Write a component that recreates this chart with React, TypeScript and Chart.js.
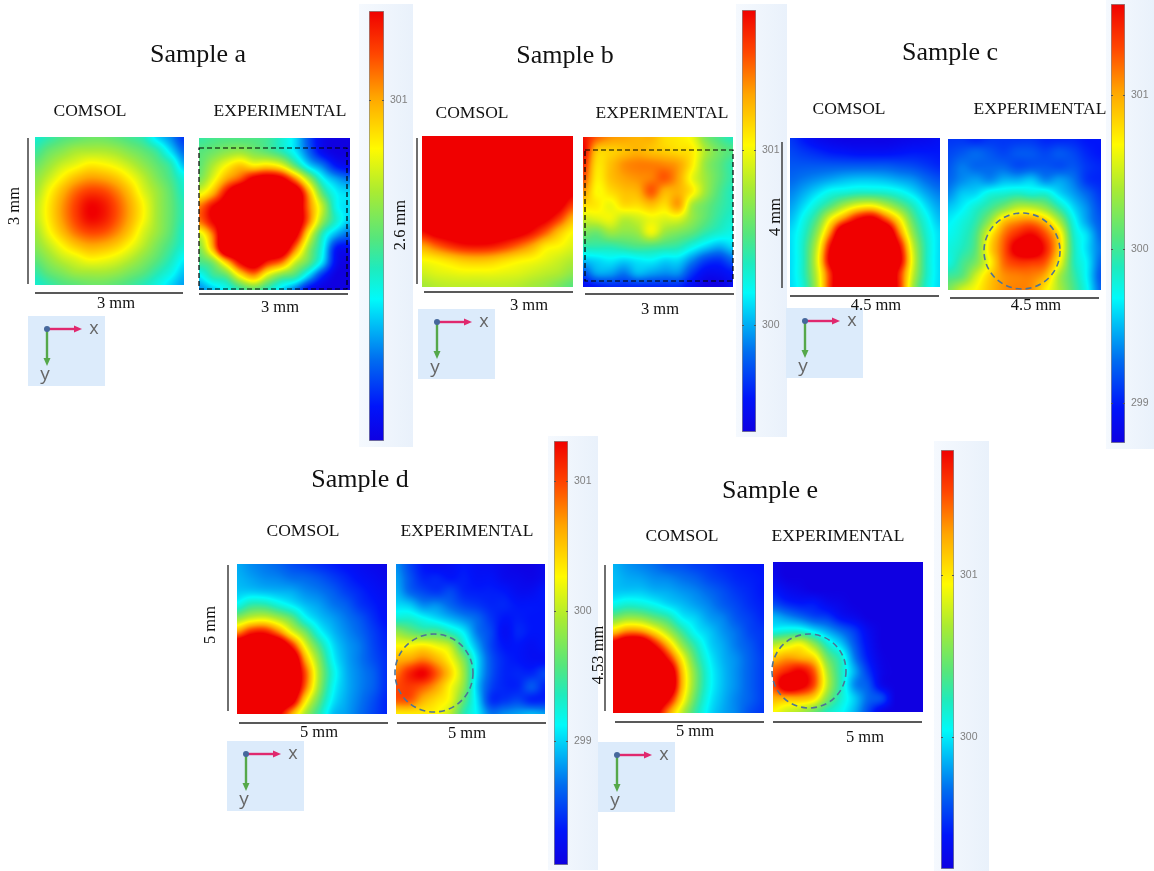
import React, { useEffect, useRef } from "react";
import { Chart, registerables } from "chart.js";

Chart.register(...registerables);

// Colour level on each colour bar: 0 = bottom of bar (blue), 100 = top of bar (red), above 100 = saturated.
const sampleAComsol = [
  [38,42,46,48,50,50,48,45,41,30,22,12],
  [43,49,53,57,58,58,56,52,48,42,30,18],
  [49,55,61,65,69,68,65,60,54,48,41,26],
  [54,61,69,76,80,79,75,68,60,52,45,36],
  [57,67,77,86,91,90,84,75,64,56,48,39],
  [60,70,81,91,99,97,89,79,68,57,49,41],
  [60,70,81,91,99,97,89,79,68,57,49,41],
  [57,67,77,86,91,90,84,75,64,56,48,39],
  [54,61,69,76,80,79,75,68,60,52,45,38],
  [49,55,61,65,69,68,65,60,54,48,41,33],
  [43,49,53,57,58,58,56,52,48,42,36,28],
  [38,42,46,48,50,50,48,45,41,36,30,24],
];
const sampleAExperimental = [
  [43,45,46,46,46,44,38,30,15,3,0,0],
  [47,50,54,56,52,48,42,32,18,5,0,0],
  [48,58,68,75,70,72,66,48,30,20,8,4],
  [52,65,80,90,105,110,105,85,58,35,25,20],
  [65,78,100,120,120,120,120,115,80,48,33,30],
  [85,100,110,120,120,120,120,115,85,60,35,30],
  [85,100,110,120,120,120,120,115,85,55,38,28],
  [62,85,120,120,120,120,120,105,68,40,25,18],
  [52,78,120,120,120,120,115,85,55,35,8,5],
  [45,52,75,100,110,95,85,62,48,30,5,0],
  [32,42,48,68,80,62,50,44,28,10,0,0],
  [22,28,34,42,48,40,30,20,5,0,0,0],
];
const sampleBComsol = [
  [120,120,120,120,120,120,120,120,120,120,120,120],
  [120,120,120,120,120,120,120,120,120,120,120,118],
  [120,120,120,120,120,120,120,120,120,120,120,115],
  [120,120,120,120,120,120,120,120,120,120,120,108],
  [120,120,120,120,120,120,120,120,120,120,113,103],
  [120,120,120,120,120,120,120,120,120,113,105,92],
  [108,116,120,120,120,120,120,116,108,103,92,78],
  [98,105,108,110,110,110,108,105,98,88,76,68],
  [80,87,93,97,98,97,93,87,80,71,68,64],
  [68,70,73,76,77,76,73,70,68,65,62,59],
  [62,64,65,66,66,66,65,64,62,60,58,54],
  [57,59,60,60,60,60,60,59,57,55,51,47],
];
const sampleBExperimental = [
  [98,88,82,80,78,78,72,70,66,52,45,40],
  [100,76,74,76,78,76,74,72,70,58,50,46],
  [95,72,76,82,84,84,83,80,70,55,48,42],
  [90,70,76,80,82,84,88,80,66,56,48,42],
  [82,68,72,76,78,88,78,78,70,56,46,40],
  [72,70,66,72,72,76,72,80,58,50,44,40],
  [62,64,66,60,62,66,64,64,55,48,42,38],
  [52,50,56,54,56,66,56,52,48,42,38,35],
  [42,42,42,44,46,46,44,42,36,30,26,30],
  [28,30,32,30,32,33,30,30,22,14,12,18],
  [15,24,24,20,26,24,22,22,12,5,5,8],
  [5,8,10,10,10,10,10,10,5,0,0,5],
];
const sampleCComsol = [
  [12,8,4,2,1,1,1,1,2,3,4,6],
  [14,12,10,8,7,6,6,6,7,8,8,8],
  [16,16,16,16,16,16,16,16,15,14,12,10],
  [18,20,22,24,26,27,27,26,24,22,18,15],
  [21,25,30,35,37,39,39,38,35,30,24,20],
  [24,30,38,47,58,66,68,60,50,40,30,24],
  [27,35,47,68,85,100,105,90,70,48,35,27],
  [30,38,55,85,120,120,120,120,85,55,38,30],
  [30,40,62,100,125,125,125,125,100,62,40,30],
  [30,40,65,105,125,125,125,125,105,65,40,30],
  [30,40,62,95,120,125,125,120,95,62,40,30],
  [30,38,60,95,120,120,120,120,95,58,38,30],
];
const sampleCExperimental = [
  [12,12,10,12,12,12,12,10,10,10,8,8],
  [14,16,18,16,14,16,16,14,16,14,10,8],
  [16,20,18,18,18,15,16,16,15,16,12,10],
  [18,22,24,22,26,26,28,22,24,20,12,10],
  [22,28,30,36,38,40,38,38,30,24,18,12],
  [28,32,38,44,52,60,60,54,42,30,22,14],
  [32,36,42,55,75,82,84,76,58,36,24,16],
  [34,38,46,68,85,95,100,90,72,40,30,18],
  [36,40,48,72,88,105,110,96,74,42,30,20],
  [36,44,52,68,86,92,92,88,68,42,32,18],
  [44,48,62,74,82,84,84,78,58,44,32,16],
  [52,62,68,76,82,84,82,70,58,46,34,18],
];
const sampleDComsol = [
  [25,22,20,18,15,13,11,9,7,5,3,2],
  [26,24,22,21,19,18,16,13,10,7,5,3],
  [28,28,27,26,25,22,20,17,13,10,7,5],
  [35,42,42,37,32,27,24,20,17,12,9,6],
  [55,62,64,58,49,35,28,24,20,16,11,7],
  [82,95,97,85,66,51,35,27,22,18,13,9],
  [115,120,120,118,96,66,46,31,24,20,14,10],
  [120,120,120,120,118,80,54,34,25,20,15,11],
  [120,120,120,120,120,90,58,37,26,21,17,11],
  [120,120,120,120,120,87,56,35,26,21,17,11],
  [120,120,120,120,108,72,49,32,25,20,15,10],
  [100,115,115,104,80,58,42,28,24,19,14,10],
];
const sampleDExperimental = [
  [22,14,8,5,6,8,6,5,3,1,1,3],
  [24,16,10,10,8,9,7,7,4,3,2,4],
  [26,18,14,12,14,10,9,9,8,5,5,8],
  [30,28,22,22,18,14,12,10,10,8,8,8],
  [38,38,34,30,26,22,18,12,8,9,8,8],
  [55,50,46,46,40,32,20,14,6,10,8,8],
  [68,68,70,66,60,40,25,14,8,8,6,8],
  [78,80,84,78,68,52,30,16,10,8,6,6],
  [85,95,100,88,74,56,30,16,10,10,10,14],
  [90,92,88,80,68,54,28,14,10,10,16,10],
  [88,88,78,72,66,48,30,12,12,14,10,10],
  [70,70,70,68,60,42,32,20,22,24,26,24],
];
const sampleEComsol = [
  [26,23,21,19,16,15,13,12,10,9,8,7],
  [27,25,24,22,21,19,17,14,12,10,9,8],
  [28,28,28,26,25,23,21,18,15,12,10,8],
  [35,38,37,34,30,27,24,21,17,14,11,9],
  [51,56,55,49,43,33,29,24,21,16,13,10],
  [75,84,83,72,58,44,33,28,23,19,14,12],
  [108,120,120,100,78,56,41,30,25,20,16,12],
  [120,120,120,120,98,70,47,33,26,22,17,13],
  [120,120,120,120,118,78,52,35,27,22,17,13],
  [120,120,120,120,120,79,52,35,27,22,17,13],
  [120,120,120,120,102,72,48,33,26,21,17,13],
  [118,120,120,108,83,61,43,31,25,21,15,12],
];
const sampleEExperimental = [
  [2,0,0,0,0,0,0,0,0,0,0,0],
  [3,0,0,0,0,0,0,0,0,0,0,0],
  [8,4,2,0,0,0,0,0,0,0,0,0],
  [14,10,8,8,4,2,0,0,0,0,0,0],
  [26,22,18,14,12,6,3,0,0,0,0,0],
  [34,36,36,30,24,18,12,4,0,0,0,0],
  [58,62,66,54,38,28,16,6,0,0,0,0],
  [75,80,78,72,50,38,20,8,1,0,0,0],
  [88,95,100,88,58,40,25,12,2,0,0,0],
  [90,110,105,90,60,40,22,16,3,0,0,0],
  [78,78,78,72,52,38,28,18,14,0,0,0],
  [68,62,58,50,40,34,26,14,2,0,0,0],
];

// Colour-bar ranges (kelvin) and printed ticks.
const barRangeA = [299.0, 301.52];
const barRangeB = [299.39, 301.8];
const barRangeC = [298.74, 301.59];
const barRangeD = [298.05, 301.31];
const barRangeE = [299.19, 301.77];
const barTicksA = [301];
const barTicksB = [300, 301];
const barTicksC = [299, 300, 301];
const barTicksD = [299, 300, 301];
const barTicksE = [300, 301];

const sampleTitles = ["Sample a", "Sample b", "Sample c", "Sample d", "Sample e"];
const panelHeading = ["COMSOL", "EXPERIMENTAL"];
const widthLabels = ["3 mm", "3 mm", "4.5 mm", "5 mm", "5 mm"];
const heightLabels = ["3 mm", "2.6 mm", "4 mm", "5 mm", "4.53 mm"];

// ---- layout: [left, top, right, bottom] in page pixels
type Box = [number, number, number, number];
const heatLayout: { grid: number[][]; box: Box }[] = [
  { grid: sampleAComsol, box: [35, 137, 184, 285] },
  { grid: sampleAExperimental, box: [199, 138, 350, 290] },
  { grid: sampleBComsol, box: [422, 136, 573, 287] },
  { grid: sampleBExperimental, box: [583, 137, 733, 287] },
  { grid: sampleCComsol, box: [790, 138, 940, 287] },
  { grid: sampleCExperimental, box: [948, 139, 1101, 290] },
  { grid: sampleDComsol, box: [237, 564, 387, 714] },
  { grid: sampleDExperimental, box: [396, 564, 545, 714] },
  { grid: sampleEComsol, box: [613, 564, 764, 713] },
  { grid: sampleEExperimental, box: [773, 562, 923, 712] },
];
const barLayout: { range: number[]; ticks: number[]; bar: Box; bg: Box }[] = [
  { range: barRangeA, ticks: barTicksA, bar: [369, 11, 384, 441], bg: [359, 4, 413, 447] },
  { range: barRangeB, ticks: barTicksB, bar: [742, 10, 756, 432], bg: [736, 4, 787, 437] },
  { range: barRangeC, ticks: barTicksC, bar: [1111, 4, 1125, 443], bg: [1106, 0, 1154, 449] },
  { range: barRangeD, ticks: barTicksD, bar: [554, 441, 568, 865], bg: [548, 436, 598, 870] },
  { range: barRangeE, ticks: barTicksE, bar: [941, 450, 954, 869], bg: [934, 441, 989, 871] },
];
const titlePos = [[198, 54], [565, 55], [950, 52], [360, 479], [770, 490]];
const headingPos = [
  [[90, 111], [280, 111]],
  [[472, 113], [662, 113]],
  [[849, 109], [1040, 109]],
  [[303, 531], [467, 531]],
  [[682, 536], [838, 536]],
];
const widthLabelPos = [
  [[116, 303], [280, 307]],
  [[529, 305], [660, 309]],
  [[876, 305], [1036, 305]],
  [[319, 732], [467, 733]],
  [[695, 731], [865, 737]],
];
const heightLabelPos = [[14, 206], [400, 225], [775, 217], [210, 625], [598, 655]];
const axisLines = [
  [28, 138, 28, 284], [35, 293, 183, 293], [199, 294, 348, 294],
  [417, 138, 417, 284], [424, 292, 573, 292], [585, 294, 734, 294],
  [782, 142, 782, 288], [790, 296, 939, 296], [950, 298, 1099, 298],
  [228, 565, 228, 711], [239, 723, 388, 723], [397, 723, 546, 723],
  [605, 565, 605, 711], [615, 722, 764, 722], [773, 722, 922, 722],
];
const dashedRects = [[199, 148, 347, 289], [585, 150, 733, 281]];
const dashedCircles = [[1022, 251, 38], [434, 673, 39], [809, 671, 37]];
const triads = [[28, 316], [418, 309], [786, 308], [227, 741], [598, 742]];

// ---- colours
const colourStops: [number, number, number, number][] = [
  [0, 15, 0, 225],
  [8, 0, 20, 250],
  [19, 0, 110, 240],
  [33, 0, 250, 250],
  [40, 30, 235, 190],
  [47, 85, 230, 125],
  [58, 170, 235, 50],
  [68, 255, 250, 0],
  [80, 255, 165, 0],
  [90, 255, 70, 0],
  [100, 240, 0, 0],
];
function levelColour(level: number): [number, number, number] {
  const v = Math.max(0, Math.min(100, level));
  for (let i = 1; i < colourStops.length; i++) {
    const a = colourStops[i - 1];
    const b = colourStops[i];
    if (v <= b[0]) {
      const t = (v - a[0]) / (b[0] - a[0]);
      return [a[1] + (b[1] - a[1]) * t, a[2] + (b[2] - a[2]) * t, a[3] + (b[3] - a[3]) * t];
    }
  }
  return [240, 0, 0];
}

function catmull(a: number, b: number, c: number, d: number, t: number) {
  return 0.5 * (2 * b + (c - a) * t + (2 * a - 5 * b + 4 * c - d) * t * t + (3 * b - a - 3 * c + d) * t * t * t);
}

const heatRaster = {
  id: "heatRaster",
  beforeDatasetsDraw(chart: any) {
    const pts = chart.data.datasets[0].data as { x: number; y: number; v: number }[];
    const nx = Math.max(...pts.map((p) => p.x)) + 1;
    const ny = Math.max(...pts.map((p) => p.y)) + 1;
    const cell = (c: number, r: number) =>
      pts[Math.max(0, Math.min(r, ny - 1)) * nx + Math.max(0, Math.min(c, nx - 1))].v;
    const { left, top, right, bottom } = chart.chartArea;
    const w = Math.round(right - left);
    const h = Math.round(bottom - top);
    const off = document.createElement("canvas");
    off.width = w;
    off.height = h;
    const octx = off.getContext("2d")!;
    const img = octx.createImageData(w, h);
    for (let py = 0; py < h; py++) {
      const gy = Math.max(0, Math.min(ny - 1, chart.scales.y.getValueForPixel(top + py + 0.5)));
      const r0 = Math.floor(gy);
      const fy = gy - r0;
      for (let px = 0; px < w; px++) {
        const gx = Math.max(0, Math.min(nx - 1, chart.scales.x.getValueForPixel(left + px + 0.5)));
        const c0 = Math.floor(gx);
        const fx = gx - c0;
        const rows = [-1, 0, 1, 2].map((dr) =>
          catmull(cell(c0 - 1, r0 + dr), cell(c0, r0 + dr), cell(c0 + 1, r0 + dr), cell(c0 + 2, r0 + dr), fx)
        );
        const v = catmull(rows[0], rows[1], rows[2], rows[3], fy);
        const [cr, cg, cb] = levelColour(v);
        const o = (py * w + px) * 4;
        img.data[o] = cr;
        img.data[o + 1] = cg;
        img.data[o + 2] = cb;
        img.data[o + 3] = 255;
      }
    }
    octx.putImageData(img, 0, 0);
    chart.ctx.drawImage(off, left, top);
  },
};

const barTickMarks = {
  id: "barTickMarks",
  afterDatasetsDraw(chart: any) {
    const { ctx, chartArea, scales } = chart;
    ctx.save();
    ctx.strokeStyle = "#555";
    ctx.lineWidth = 1;
    for (const t of scales.y.ticks) {
      const y = Math.round(scales.y.getPixelForValue(t.value)) + 0.5;
      ctx.beginPath();
      ctx.moveTo(chartArea.left, y);
      ctx.lineTo(chartArea.left + 2, y);
      ctx.moveTo(chartArea.right - 2, y);
      ctx.lineTo(chartArea.right, y);
      ctx.stroke();
    }
    ctx.restore();
  },
};

function Heat({ grid, box }: { grid: number[][]; box: Box }) {
  const ref = useRef<HTMLCanvasElement>(null);
  useEffect(() => {
    const data = grid.flatMap((row, r) => row.map((v, c) => ({ x: c, y: r, v })));
    const chart = new Chart(ref.current!, {
      type: "scatter",
      data: { datasets: [{ data, pointRadius: 0, pointHoverRadius: 0 }] },
      options: {
        animation: false,
        responsive: false,
        events: [],
        layout: { padding: 0, autoPadding: false },
        plugins: { legend: { display: false }, tooltip: { enabled: false } },
        scales: {
          x: { type: "linear", display: false, min: 0, max: grid[0].length - 1 },
          y: { type: "linear", display: false, min: 0, max: grid.length - 1, reverse: true },
        },
      } as any,
      plugins: [heatRaster],
    });
    return () => chart.destroy();
  }, []);
  return (
    <canvas
      ref={ref}
      width={box[2] - box[0]}
      height={box[3] - box[1]}
      style={{ position: "absolute", left: box[0], top: box[1], width: box[2] - box[0], height: box[3] - box[1] }}
    />
  );
}

function ColourBar({ range, ticks, bar, bg }: { range: number[]; ticks: number[]; bar: Box; bg: Box }) {
  const ref = useRef<HTMLCanvasElement>(null);
  const cw = bg[2] - bar[0];
  const ch = bar[3] - bar[1];
  useEffect(() => {
    const barW = bar[2] - bar[0];
    const chart = new Chart(ref.current!, {
      type: "bar",
      data: {
        labels: ["T"],
        datasets: [
          {
            data: [[range[0], range[1]]],
            barPercentage: 1,
            categoryPercentage: 1,
            borderWidth: 1,
            borderSkipped: false,
            borderColor: "#8a8a8a",
            backgroundColor: (ctx: any) => {
              const area = ctx.chart.chartArea;
              if (!area) return "#0f0";
              const g = ctx.chart.ctx.createLinearGradient(0, area.bottom, 0, area.top);
              colourStops.forEach((s) => g.addColorStop(s[0] / 100, `rgb(${s[1]},${s[2]},${s[3]})`));
              return g;
            },
          },
        ],
      },
      options: {
        animation: false,
        responsive: false,
        events: [],
        layout: { padding: 0, autoPadding: false },
        plugins: { legend: { display: false }, tooltip: { enabled: false } },
        scales: {
          x: { display: false },
          y: {
            position: "right",
            min: range[0],
            max: range[1],
            border: { display: false },
            grid: { display: false, drawTicks: false },
            afterFit: (s: any) => {
              s.width = cw - barW;
              s.paddingTop = 0;
              s.paddingBottom = 0;
              if (s._margins) {
                s._margins.top = 0;
                s._margins.bottom = 0;
              }
            },
            afterBuildTicks: (s: any) => {
              s.ticks = ticks.map((value) => ({ value }));
            },
            ticks: {
              color: "#808080",
              padding: 6,
              autoSkip: false,
              font: { family: "'Liberation Sans'", size: 10.5 },
              callback: (v: any) => String(v),
            },
          },
        },
      } as any,
      plugins: [barTickMarks],
    });
    return () => chart.destroy();
  }, []);
  return (
    <>
      <div
        style={{
          position: "absolute",
          left: bg[0],
          top: bg[1],
          width: bg[2] - bg[0],
          height: bg[3] - bg[1],
          background: "linear-gradient(90deg,#f5f9fe,#e9f1fb)",
        }}
      />
      <canvas
        ref={ref}
        width={cw}
        height={ch}
        style={{ position: "absolute", left: bar[0], top: bar[1], width: cw, height: ch }}
      />
    </>
  );
}

function Label({ text, pos, size, rotate }: { text: string; pos: number[]; size: number; rotate?: boolean }) {
  return (
    <div
      style={{
        position: "absolute",
        left: pos[0],
        top: pos[1],
        transform: `translate(-50%,-50%)${rotate ? " rotate(-90deg)" : ""}`,
        fontFamily: "'Liberation Serif'",
        fontSize: size,
        color: "#111",
        whiteSpace: "nowrap",
        lineHeight: 1,
      }}
    >
      {text}
    </div>
  );
}

function Triad({ at }: { at: number[] }) {
  const [x, y] = at;
  return (
    <g>
      <rect x={x} y={y} width={77} height={70} fill="#dcebfb" />
      <line x1={x + 19} y1={y + 13} x2={x + 48} y2={y + 13} stroke="#e0286e" strokeWidth={2.4} />
      <polygon points={`${x + 54},${y + 13} ${x + 46},${y + 9.5} ${x + 46},${y + 16.5}`} fill="#e0286e" />
      <line x1={x + 19} y1={y + 13} x2={x + 19} y2={y + 43} stroke="#55a84a" strokeWidth={2.4} />
      <polygon points={`${x + 19},${y + 50} ${x + 15.5},${y + 42} ${x + 22.5},${y + 42}`} fill="#55a84a" />
      <circle cx={x + 19} cy={y + 13} r={3} fill="#46689c" />
      <text x={x + 66} y={y + 18} fontFamily="'Open Sans'" fontSize={18} fill="#666" textAnchor="middle">x</text>
      <text x={x + 17} y={y + 64} fontFamily="'Open Sans'" fontSize={19} fill="#666" textAnchor="middle">y</text>
    </g>
  );
}

export default function App() {
  return (
    <div
      style={{
        position: "fixed",
        left: 0,
        top: 0,
        width: 1154,
        height: 871,
        background: "#fff",
        overflow: "hidden",
        filter: "blur(0.4px)",
      }}
    >
      {barLayout.map((b, i) => (
        <ColourBar key={i} {...b} />
      ))}
      {heatLayout.map((h, i) => (
        <Heat key={i} {...h} />
      ))}
      <svg width={1154} height={871} style={{ position: "absolute", left: 0, top: 0 }}>
        {triads.map((t, i) => (
          <Triad key={i} at={t} />
        ))}
        {axisLines.map((l, i) => (
          <line key={i} x1={l[0]} y1={l[1]} x2={l[2]} y2={l[3]} stroke="#222" strokeWidth={1.3} />
        ))}
        {dashedRects.map((r, i) => (
          <rect key={i} x={r[0]} y={r[1]} width={r[2] - r[0]} height={r[3] - r[1]} fill="none" stroke="#000" strokeWidth={1.2} strokeDasharray="5 3" />
        ))}
        {dashedCircles.map((c, i) => (
          <circle key={i} cx={c[0]} cy={c[1]} r={c[2]} fill="none" stroke="#4f7396" strokeWidth={1.6} strokeDasharray="6 4" />
        ))}
      </svg>
      {sampleTitles.map((t, i) => (
        <Label key={t} text={t} pos={titlePos[i]} size={26} />
      ))}
      {headingPos.flatMap((pair, i) =>
        pair.map((p, j) => <Label key={`h${i}${j}`} text={panelHeading[j]} pos={p} size={17.5} />)
      )}
      {widthLabelPos.flatMap((pair, i) =>
        pair.map((p, j) => <Label key={`w${i}${j}`} text={widthLabels[i]} pos={p} size={16.5} />)
      )}
      {heightLabels.map((t, i) => (
        <Label key={`v${i}`} text={t} pos={heightLabelPos[i]} size={16.5} rotate />
      ))}
    </div>
  );
}
